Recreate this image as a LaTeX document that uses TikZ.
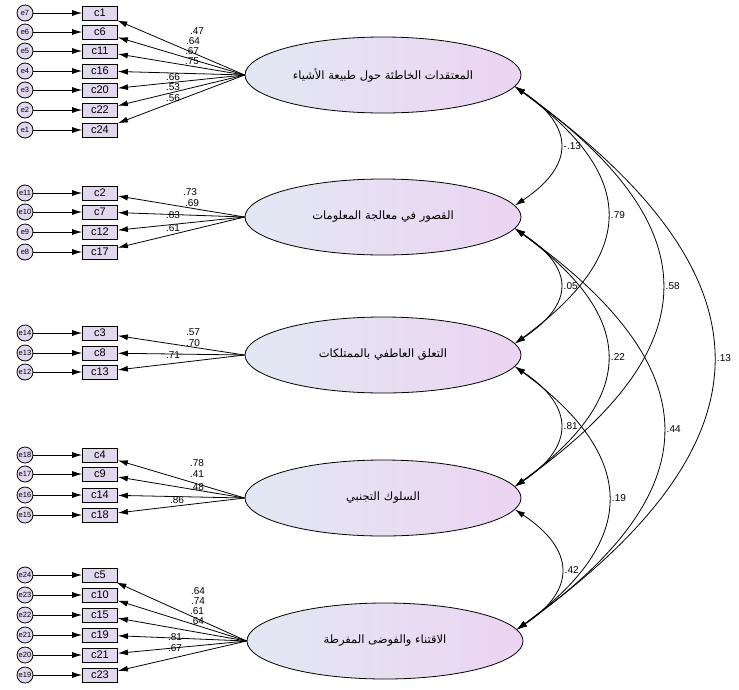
\documentclass[tikz,border=0pt]{standalone}
\usepackage{fontspec}
\setmainfont{Liberation Sans}
\newfontfamily\arabicfont[Script=Arabic]{DejaVu Sans}
\TeXXeTstate=1
\usetikzlibrary{arrows.meta,shapes.geometric}
\definecolor{latleft}{RGB}{226,232,243}
\definecolor{latright}{RGB}{236,212,242}
\definecolor{boxfill}{RGB}{226,216,238}

\begin{document}
\begin{tikzpicture}[x=1pt,y=-1pt,line width=0.8pt,
        >={Latex[length=10pt,width=6pt]},
        latent/.style={ellipse,draw,minimum width=276pt,minimum height=76pt,inner sep=0pt,
            left color=latleft,right color=latright,font=\arabicfont\fontsize{11.5}{13}\selectfont},
        obs/.style={rectangle,draw,fill=boxfill,minimum width=35pt,minimum height=14pt,
            inner sep=0pt,font=\fontsize{11}{11}\selectfont},
        errc/.style={circle,draw,fill=boxfill,minimum size=16pt,inner sep=0pt,
            font=\fontsize{7.5}{7.5}\selectfont},
        wt/.style={inner sep=0pt,font=\fontsize{10}{10}\selectfont}]
        \useasboundingbox (0,0) rectangle (739,689);
        % factors
        \node[latent] (F1) at (383,75) {\makebox[0pt]{\beginR المعتقدات الخاطئة حول طبيعة الأشياء\endR}};
        \node[latent] (F2) at (383,217) {\makebox[0pt]{\beginR القصور في معالجة المعلومات\endR}};
        \node[latent] (F3) at (383,355) {\makebox[0pt]{\beginR التعلق العاطفي بالممتلكات\endR}};
        \node[latent] (F4) at (383,498) {\makebox[0pt]{\beginR السلوك التجنبي\endR}};
        \node[latent] (F5) at (385,641) {\makebox[0pt]{\beginR الاقتناء والفوضى المفرطة\endR}};
        % items: factor / y / item / error / weight / label x / label y
        \foreach \fac/\yy/\cn/\en/\ld/\lx/\ly in {
            F1/13/1/7/.47/197/31, F1/32/6/6/.64/193/41, F1/51/11/5/.67/192/51,
            F1/71/16/4/.75/192/61, F1/90/20/3/.66/173/77, F1/110/22/2/.53/173/87,
            F1/130/24/1/.56/173/98,
            F2/193/2/11/.73/190/192, F2/212/7/10/.69/192/203,
            F2/232/12/9/.83/173/215, F2/252/17/8/.61/173/228,
            F3/333/3/14/.57/193/332, F3/353/8/13/.70/193/343, F3/372/13/12/.71/173/355,
            F4/455/4/18/.78/197/463, F4/474/9/17/.41/197/474,
            F4/495/14/16/.48/197/487, F4/515/18/15/.86/177/500,
            F5/575/5/24/.64/198/591, F5/595/10/23/.74/198/601, F5/615/15/22/.61/197/611,
            F5/635/19/21/.64/197/621, F5/655/21/20/.81/175/637, F5/675/23/19/.67/175/648} {
            \node[errc] (e\en) at (25,\yy) {e\en};
            \node[obs] (c\cn) at (100,\yy) {c\cn};
            \draw[->] (e\en) -- (c\cn);
            \draw[->] (\fac.west) -- (c\cn);
            \node[wt] (w\cn) at (\lx,\ly) {\ld};
        }
        % correlations
        \draw[<->] (F1.-5) .. controls +(60,40) and +(60,-40) .. (F2.5) node[pos=0.5,right] {-.13};
        \draw[<->] (F2.-5) .. controls +(60,40) and +(60,-40) .. (F3.5) node[pos=0.5,right] {.05};
        \draw[<->] (F3.-5) .. controls +(60,40) and +(60,-40) .. (F4.5) node[pos=0.5,right] {.81};
        \draw[<->] (F4.-5) .. controls +(60,40) and +(60,-40) .. (F5.5) node[pos=0.5,right] {.42};
        \draw[<->] (F1.-5) .. controls +(123,90) and +(123,-90) .. (F3.5) node[pos=0.5,right] {.79};
        \draw[<->] (F2.-5) .. controls +(123,90) and +(123,-90) .. (F4.5) node[pos=0.5,right] {.22};
        \draw[<->] (F3.-5) .. controls +(123,90) and +(123,-90) .. (F5.5) node[pos=0.5,right] {.19};
        \draw[<->] (F1.-5) .. controls +(196,140) and +(196,-140) .. (F4.5) node[pos=0.5,right] {.58};
        \draw[<->] (F2.-5) .. controls +(196,140) and +(196,-140) .. (F5.5) node[pos=0.5,right] {.44};
        \draw[<->] (F1.-5) .. controls +(263,190) and +(263,-190) .. (F5.5) node[pos=0.5,right] {.13};
    \end{tikzpicture}
\end{document}
